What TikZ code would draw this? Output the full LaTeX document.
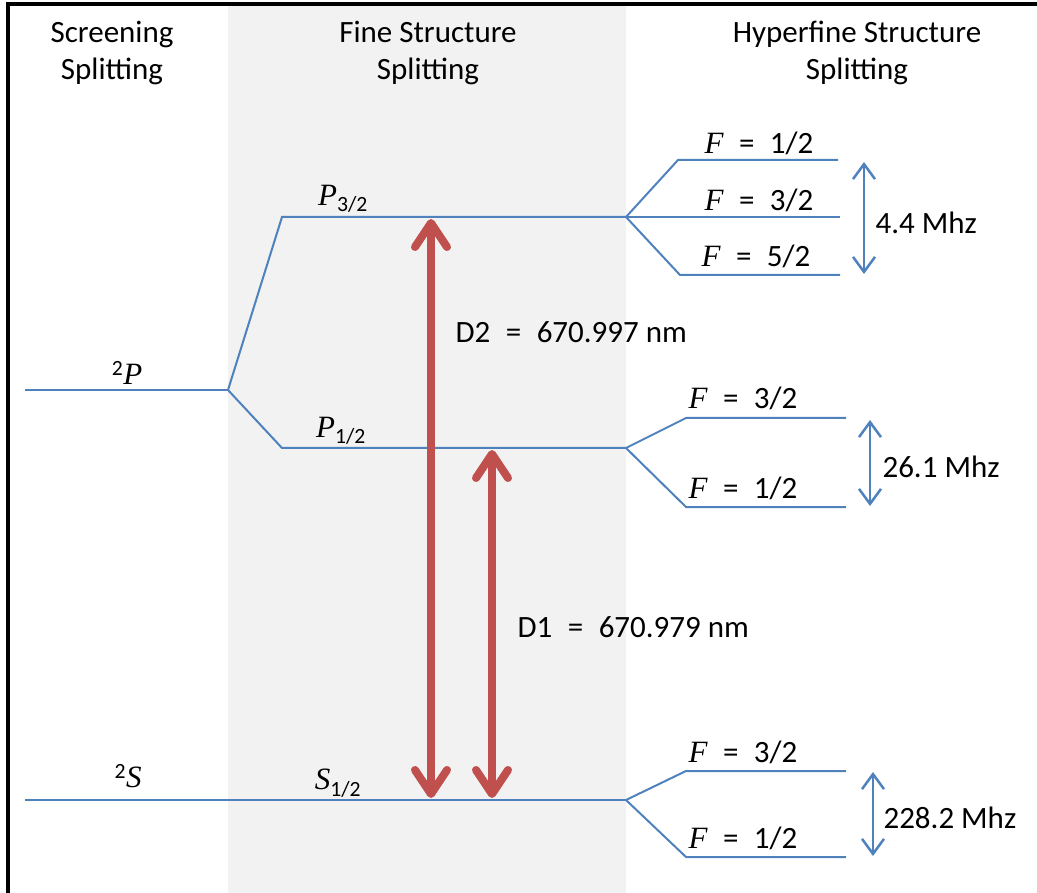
\documentclass[tikz,border=0pt]{standalone}
\usepackage{fontspec}
\setmainfont{Carlito}
\newfontfamily\lvlserif{Liberation Serif}
\newcommand{\lvlsym}[1]{{\lvlserif\itshape #1}}
\newcommand{\wideeq}{\enspace=\enspace}
\usetikzlibrary{arrows.meta}
\definecolor{lvlblue}{RGB}{79,129,189}
\definecolor{lasred}{RGB}{192,80,77}
\definecolor{bandgray}{RGB}{242,242,242}
\tikzset{
  lvl/.style={draw=lvlblue, line width=2pt},
  gap/.style={draw=lvlblue, line width=2.5pt,
    {Straight Barb[length=15pt,width=22pt]}-{Straight Barb[length=15pt,width=22pt]}},
  laser/.style={draw=lasred, line width=8pt,
    {Straight Barb[length=24pt,width=32pt,round]}-{Straight Barb[length=24pt,width=32pt,round]}},
}
\begin{document}
\begin{tikzpicture}[x=1pt, y=-1pt, font=\fontsize{31}{37}\selectfont]
	\useasboundingbox (0,0) rectangle (1037,893);
	\fill[bandgray] (228,6) rectangle (626,893);
	\draw[line width=3.5pt] (8,893) -- (8,4) -- (1037,4);

	% Headers
	\node[align=center] (hscr) at (112,53) {Screening\\Splitting};
	\node[align=center] (hfine) at (428,53) {Fine Structure\\Splitting};
	\node[align=center] (hhyp) at (857,53) {Hyperfine Structure\\Splitting};

	% Screening levels
	\coordinate (s2P) at (25,390);
	\coordinate (jP) at (228,390);
	\coordinate (s2S) at (25,800);
	\draw[lvl] (s2P) -- (jP);
	\node (l2P) at (127,373) {\textsuperscript{2}\lvlsym{P}};
	\node (l2S) at (128,776) {\textsuperscript{2}\lvlsym{S}};

	% Fine structure levels
	\coordinate (p3a) at (282,217);
	\coordinate (p3b) at (626,217);
	\coordinate (p1a) at (282,448);
	\coordinate (p1b) at (626,448);
	\coordinate (s1b) at (626,800);
	\draw[lvl] (jP) -- (p3a) -- (p3b);
	\draw[lvl] (jP) -- (p1a) -- (p1b);
	\draw[lvl] (s2S) -- (s1b);
	\node (lp3) at (343,199) {\lvlsym{P}\textsubscript{3/2}};
	\node (lp1) at (341,431) {\lvlsym{P}\textsubscript{1/2}};
	\node (ls1) at (338,783) {\lvlsym{S}\textsubscript{1/2}};

	% Hyperfine (P3/2)
	\coordinate (h3a) at (678,160);
	\coordinate (h3ae) at (838,160);
	\coordinate (h3be) at (840,217);
	\coordinate (h3c) at (680,275);
	\coordinate (h3ce) at (840,275);
	\draw[lvl] (p3b) -- (h3a) -- (h3ae);
	\draw[lvl] (p3b) -- (h3be);
	\draw[lvl] (p3b) -- (h3c) -- (h3ce);
	\node (f3a) at (759,143) {\lvlsym{F}\wideeq 1/2};
	\node (f3b) at (759,200) {\lvlsym{F}\wideeq 3/2};
	\node (f3c) at (756,256) {\lvlsym{F}\wideeq 5/2};
	\coordinate (g3t) at (864,162);
	\coordinate (g3b) at (864,274);
	\draw[gap] (g3t) -- (g3b);
	\node[anchor=west] (g3l) at (872,223) {4.4 Mhz};

	% Hyperfine (P1/2)
	\coordinate (h1a) at (686,418);
	\coordinate (h1ae) at (846,418);
	\coordinate (h1b) at (686,507);
	\coordinate (h1be) at (846,507);
	\draw[lvl] (p1b) -- (h1a) -- (h1ae);
	\draw[lvl] (p1b) -- (h1b) -- (h1be);
	\node (f1a) at (743,398) {\lvlsym{F}\wideeq 3/2};
	\node (f1b) at (743,488) {\lvlsym{F}\wideeq 1/2};
	\coordinate (g1t) at (870,420);
	\coordinate (g1b) at (870,506);
	\draw[gap] (g1t) -- (g1b);
	\node[anchor=west] (g1l) at (879,467) {26.1 Mhz};

	% Hyperfine (S1/2)
	\coordinate (hsa) at (686,771);
	\coordinate (hsae) at (846,771);
	\coordinate (hsb) at (686,857);
	\coordinate (hsbe) at (846,857);
	\draw[lvl] (s1b) -- (hsa) -- (hsae);
	\draw[lvl] (s1b) -- (hsb) -- (hsbe);
	\node (fsa) at (743,752) {\lvlsym{F}\wideeq 3/2};
	\node (fsb) at (743,838) {\lvlsym{F}\wideeq 1/2};
	\coordinate (gst) at (873,772);
	\coordinate (gsb) at (873,856);
	\draw[gap] (gst) -- (gsb);
	\node[anchor=west] (gsl) at (880,818) {228.2 Mhz};

	% D lines
	\coordinate (d2t) at (431,219);
	\coordinate (d2b) at (431,798);
	\coordinate (d1t) at (492,450);
	\coordinate (d1b) at (492,798);
	\draw[laser] (d2b) -- (d2t);
	\draw[laser] (d1b) -- (d1t);
	\node[anchor=west] (d2l) at (452,332) {D2\wideeq 670.997 nm};
	\node[anchor=west] (d1l) at (514,627) {D1\wideeq 670.979 nm};
\end{tikzpicture}
\end{document}
